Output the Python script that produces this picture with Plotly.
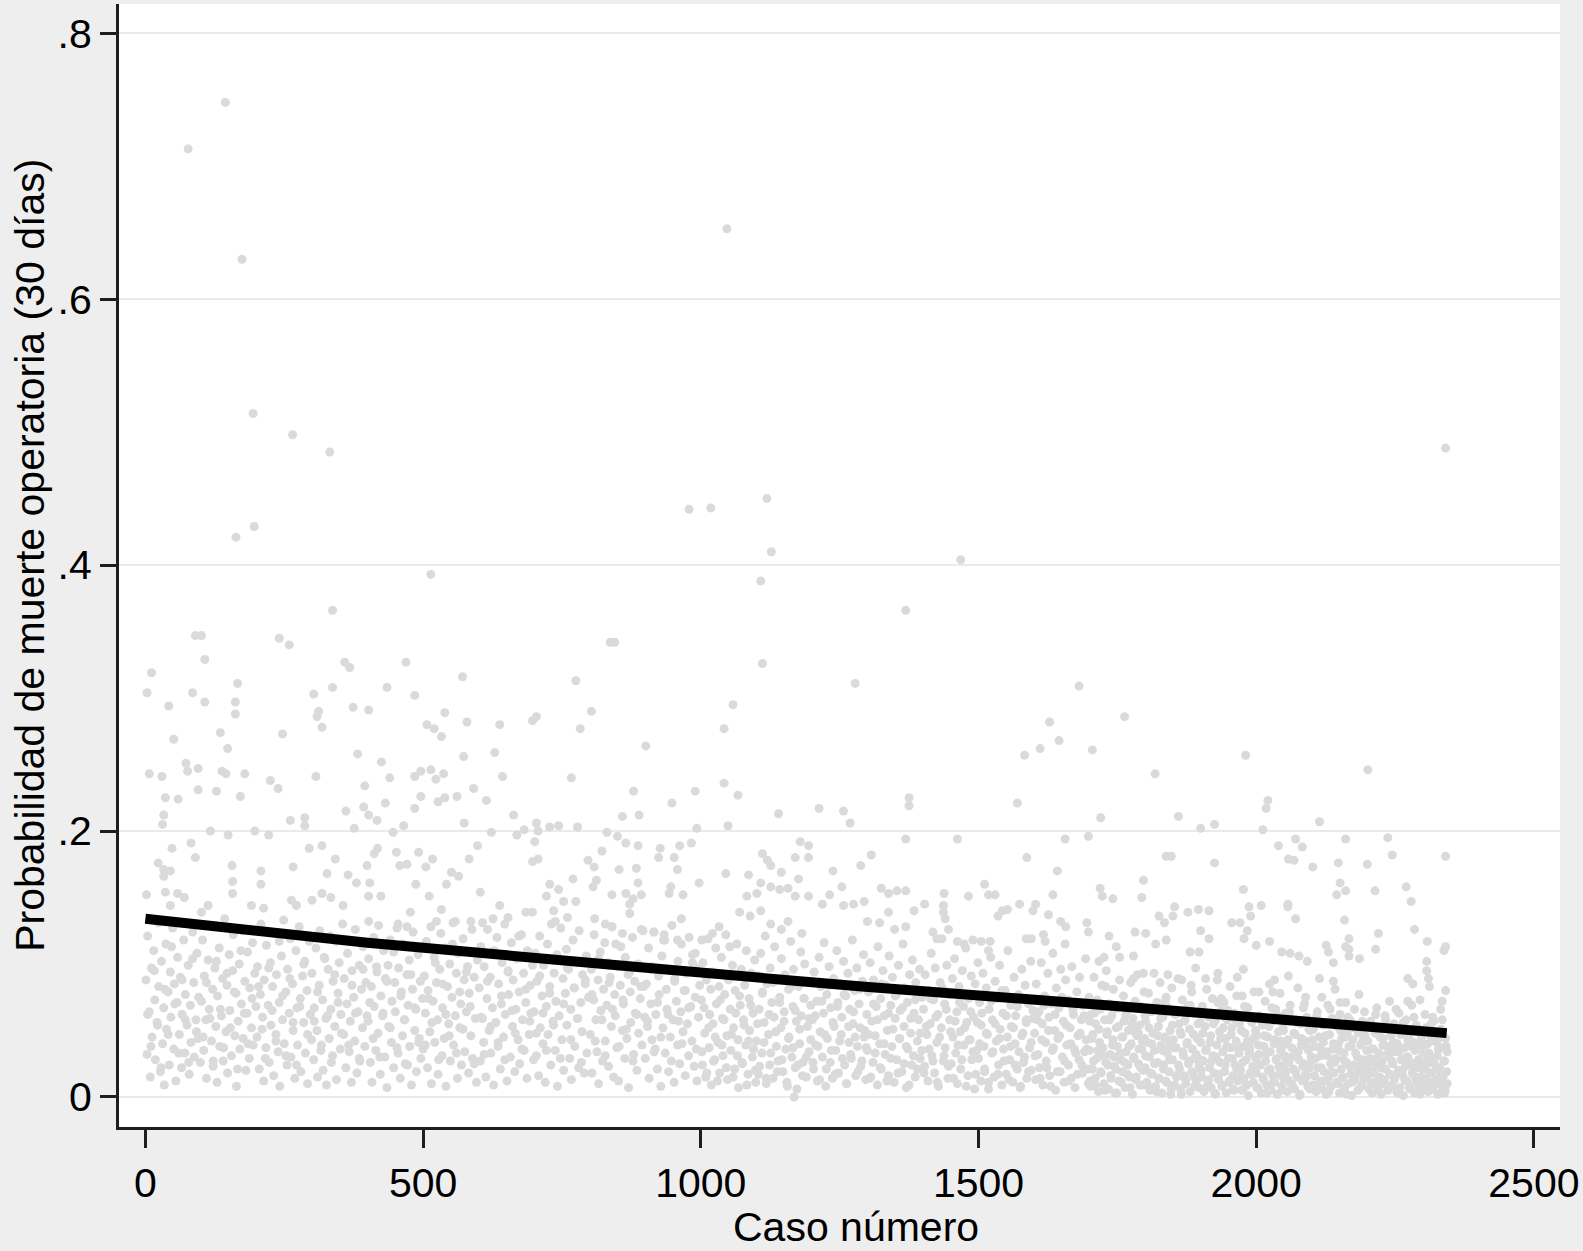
import plotly.graph_objects as go

# ---------------- data ----------------
# isolated high-probability cases
caso_a = [144, 77, 174, 1047, 194, 265, 332, 2341, 163, 196, 979, 1018, 1119, 1127, 1468, 1168]
prob_a = [.748, .713, .630, .653, .514, .498, .485, .488, .421, .429, .442, .443, .450, .410, .404, .000]

# cases 0-400 above the dense cloud
caso_b = [337, 90, 101, 241, 259, 107, 359, 368, 11, 3,
          85, 166, 107, 162, 162, 42, 303, 337, 312, 309,
          318, 374, 51, 135, 247, 148, 382, 7, 30, 73,
          76, 95, 138, 145, 179, 225, 239, 307, 95, 128,
          171, 36, 59, 395, 393, 361, 33, 31, 261, 287,
          287, 376, 117, 149, 197, 222, 82, 48, 90, 295,
          318, 23, 33, 45, 33, 156, 157, 157, 208, 208,
          266, 342, 327, 365, 380, 399, 2, 36, 58, 70,
          45, 113, 101, 191, 213, 263, 272, 300, 318, 334,
          356]
prob_b = [.366, .347, .347, .345, .340, .329, .327, .323, .319, .304,
          .304, .311, .297, .297, .288, .294, .303, .308, .290, .286,
          .278, .293, .269, .274, .273, .262, .258, .243, .241, .251,
          .245, .247, .245, .243, .243, .238, .232, .241, .231, .230,
          .226, .225, .224, .234, .218, .215, .212, .205, .208, .210,
          .204, .202, .200, .197, .200, .197, .191, .187, .180, .187,
          .189, .176, .171, .170, .166, .174, .162, .153, .170, .160,
          .173, .179, .168, .167, .161, .174, .152, .154, .153, .150,
          .144, .144, .139, .144, .142, .148, .144, .148, .153, .150,
          .144]

# cases 400-850
caso_c = [514, 469, 571, 435, 485, 402, 539, 579, 507, 520, 533, 638, 697, 704, 775, 803, 783, 845, 629, 573,
          425, 440, 485, 496, 514, 523, 537, 643, 767, 591, 496, 485, 527, 539, 561, 614, 432, 402, 417, 663,
          465, 446, 574, 623, 669, 682, 704, 707, 728, 744, 778, 831, 701, 418, 412, 452, 492, 598, 583, 822,
          797, 808, 458, 471, 505, 517, 697, 707, 551, 564, 542, 404, 402, 424, 487, 603, 511, 770, 812, 806,
          728, 744, 722, 753, 775, 840, 638, 653, 685, 697, 477, 533, 524, 558, 586, 607, 626, 735, 738, 760,
          809, 828, 402, 455, 471]
prob_c = [.393, .327, .316, .308, .302, .291, .289, .282, .280, .277, .271, .280, .283, .286, .313, .290, .277, .342, .259, .256,
          .252, .240, .241, .245, .246, .239, .243, .241, .240, .232, .226, .217, .222, .225, .226, .223, .221, .212, .208, .212,
          .204, .199, .206, .199, .197, .201, .206, .200, .203, .204, .203, .199, .192, .187, .183, .184, .184, .189, .179, .185,
          .178, .173, .174, .175, .173, .179, .177, .179, .169, .166, .160, .161, .151, .151, .160, .154, .151, .164, .163, .158,
          .160, .156, .151, .147, .147, .152, .144, .135, .139, .139, .139, .141, .132, .132, .132, .131, .134, .140, .132, .135,
          .134, .130, .132, .130, .128]

# cases 850-1300
caso_d = [1108, 837, 1111, 1278, 1058, 1042, 901, 1042, 1067, 879,
          990, 948, 859, 889, 1140, 1213, 1257, 1269, 993, 1049,
          850, 865, 887, 983, 962, 952, 927, 924, 1179, 1194,
          1170, 1194, 1111, 1120, 1126, 853, 884, 887, 958, 1045,
          1086, 1145, 1176, 1238, 1254, 997, 946, 943, 968, 865,
          878, 893, 872, 1083, 1101, 1108, 1126, 1142, 1157, 1170,
          1194, 1219, 1232, 1257, 1275, 1294, 1070, 1089, 1108, 1126,
          1145, 1157, 1182, 965, 872, 840, 859, 896, 915, 934,
          958, 1002, 1021, 1033, 1052, 990]
prob_d = [.388, .342, .326, .311, .295, .277, .264, .236, .227, .230,
          .230, .221, .211, .212, .213, .217, .215, .206, .202, .204,
          .196, .191, .189, .191, .189, .180, .187, .180, .192, .189,
          .180, .180, .183, .178, .174, .171, .172, .161, .171, .168,
          .167, .169, .164, .170, .158, .161, .158, .153, .152, .153,
          .149, .152, .145, .151, .153, .161, .158, .156, .157, .151,
          .151, .145, .152, .144, .145, .147, .139, .136, .140, .130,
          .126, .132, .123, .134, .138, .128, .123, .125, .124, .122,
          .118, .118, .123, .128, .113, .108]

# cases 1280-1730
caso_e = [1369, 1681, 1628, 1645, 1611, 1583, 1705, 1375, 1375, 1570,
          1369, 1462, 1656, 1698, 1307, 1288, 1587, 1642, 1325, 1338,
          1353, 1369, 1438, 1482, 1511, 1518, 1530, 1543, 1552, 1535,
          1574, 1603, 1598, 1634, 1626, 1719, 1723, 1403, 1384, 1338,
          1437, 1437, 1440, 1300, 1322, 1349, 1369, 1648, 1657, 1695,
          1698, 1656, 1617, 1620, 1586, 1595, 1418, 1425, 1446, 1462,
          1474, 1490, 1505, 1518, 1521]
prob_e = [.366, .309, .282, .268, .262, .257, .261, .225, .219, .221,
          .194, .194, .194, .196, .182, .174, .180, .170, .157, .153,
          .155, .155, .153, .151, .160, .152, .152, .140, .141, .136,
          .145, .145, .140, .152, .137, .157, .151, .145, .140, .139,
          .144, .139, .134, .132, .131, .126, .128, .132, .128, .131,
          .124, .115, .122, .117, .119, .119, .124, .119, .126, .117,
          .115, .118, .117, .110, .117]

# cases 1715-2170
caso_f = [1763, 1981, 1818, 1720, 1860, 1900, 1925, 2021, 2018, 2012,
          2114, 2161, 2040, 2071, 2083, 1838, 1847, 1925, 2058, 2068,
          2102, 2148, 1797, 1794, 1742, 1977, 2151, 2145, 1825, 1835,
          1853, 1850, 1877, 1896, 1915, 1987, 1990, 2009, 2057, 2057,
          2071, 1956, 1971, 1984, 1978, 2159, 1782, 1801, 1819, 1838,
          1900, 1915, 1881, 1897, 2000, 2024, 2046, 2061, 2077, 2092,
          2126, 2130, 2139, 2167, 2167, 1735, 1748, 1726, 1754, 1779,
          1717, 1931, 1909, 1977, 2005, 2030, 2033, 2058, 2089, 2114,
          2139, 2151, 1779, 1797, 1841, 1866, 1884, 1937, 1965, 1729]
prob_f = [.286, .257, .243, .210, .211, .202, .205, .223, .217, .201,
          .207, .194, .189, .194, .188, .181, .181, .176, .179, .178,
          .173, .176, .163, .150, .149, .156, .161, .152, .136, .131,
          .143, .136, .139, .141, .140, .143, .136, .144, .145, .143,
          .134, .131, .131, .125, .119, .133, .124, .123, .115, .118,
          .125, .119, .109, .109, .114, .117, .109, .108, .106, .102,
          .114, .109, .101, .119, .111, .121, .113, .105, .105, .106,
          .102, .093, .089, .096, .079, .079, .088, .091, .075, .089,
          .087, .071, .089, .093, .092, .088, .079, .074, .076, .083]

# cases 2160-2345
caso_g = [2201, 2237, 2245, 2341, 2200, 2161, 2214, 2270, 2279, 2285, 2220, 2215, 2308, 2341, 2338,
          2161, 2167, 2186, 2307, 2307, 2310, 2312, 2273, 2282, 2273, 2295, 2341, 2335, 2332]
prob_g = [.246, .195, .182, .181, .175, .155, .155, .158, .147, .126, .123, .111, .117, .113, .110,
          .113, .106, .104, .102, .095, .089, .083, .089, .085, .072, .073, .080, .072, .066]

# dense cloud, per block of cases (probability in thousandths)
caso_nube = [
    [1,3,4,7,9,11,12,15,17,18,21,23,24,27,29,31,33,34,37,38,41,43,45,46,49,51,52,55,57,58,61,63,65,66,69,71,72,75,77,79,81,82,85,87,88,91,93,95,96,99],
    [101,103,105,106,109,110,113,115,116,119,121,122,125,127,129,130,133,134,137,139,140,143,145,147,148,151,152,155,157,158,161,163,164,167,169,170,173,175,176,179,181,183,184,187,188,191,193,194,197,199],
    [201,202,205,207,208,211,213,214,217,218,221,223,225,226,229,231,232,235,236,239,241,242,245,247,249,250,253,255,256,259,261,262,265,266,269,271,273,274,277,279,280,283,285,287,288,291,292,295,297,299],
    [300,303,304,307,309,310,313,314,317,319,320,323,325,326,329,331,333,334,337,338,341,343,344,347,349,351,352,355,357,358,361,363,364,367,369,371,372,375,377,378,381,383,385,386,389,391,392,395,397,399],
    [401,402,405,407,408,411,412,415,417,419,420,423,424,427,429,431,432,435,437,438,441,443,444,447,449,450,453,455,456,459,461,463,464,467,468,471,473,475,476,479,481,482,485,487,488,491,493,495,496,499],
    [500,502,504,506,508,509,512,514,515,518,520,521,524,526,527,530,532,534,535,538,540,541,544,546,548,549,552,554,555,558,560,562,563,566,568,569,572,574,575,578,580,582,583,586,588,589,592,594,596,598],
    [601,603,604,607,609,610,613,615,616,619,621,622,625,627,628,631,633,635,636,639,641,642,645,647,648,651,653,654,657,659,661,662,665,667,668,671,673,674,677,679,681,682,685,687,688,691,693,694,697,699],
    [700,702,704,705,708,710,711,714,716,717,720,722,724,725,728,730,731,734,736,738,739,742,744,745,748,750,752,753,756,758,759,762,764,766,767,770,772,773,776,778,780,781,784,786,787,790,792,794,795,798],
    [801,803,804,807,808,811,813,815,816,819,820,823,825,827,828,831,833,834,837,839,840,843,845,846,849,851,852,855,856,859,861,863,864,867,869,870,873,874,877,879,881,882,885,887,888,891,893,894,897,899],
    [900,902,904,906,907,910,912,913,916,918,919,922,924,925,928,930,932,933,936,938,939,942,944,945,948,950,952,953,956,958,959,962,964,965,968,970,972,973,976,978,979,982,984,985,988,990,992,993,996,998],
    [1001,1003,1004,1007,1009,1010,1013,1015,1016,1019,1021,1022,1025,1027,1028,1031,1033,1034,1037,1039,1040,1043,1045,1047,1048,1051,1053,1054,1057,1059,1061,1062,1065,1067,1068,1071,1073,1074,1077,1079,1081,1082,1085,1087,1088,1091,1093,1094,1097,1099],
    [1100,1102,1104,1105,1108,1110,1111,1114,1116,1118,1119,1122,1124,1125,1128,1130,1132,1133,1136,1138,1139,1142,1144,1145,1148,1150,1152,1153,1156,1158,1159,1162,1164,1166,1167,1170,1172,1173,1176,1178,1180,1181,1184,1186,1187,1190,1192,1194,1195,1198],
    [1201,1203,1204,1207,1209,1210,1213,1215,1216,1219,1221,1222,1225,1227,1228,1231,1233,1234,1237,1239,1240,1243,1245,1247,1248,1251,1253,1254,1257,1259,1261,1262,1265,1267,1268,1271,1273,1274,1277,1279,1281,1282,1285,1287,1288,1291,1293,1294,1297,1299],
    [1300,1302,1304,1305,1308,1310,1311,1314,1316,1318,1319,1322,1324,1325,1328,1330,1332,1333,1336,1338,1339,1342,1344,1345,1348,1350,1352,1353,1356,1358,1359,1362,1364,1366,1367,1370,1372,1373,1376,1378,1380,1381,1384,1386,1387,1390,1392,1394,1395,1398],
    [1401,1403,1404,1407,1409,1410,1413,1415,1416,1419,1421,1422,1425,1427,1428,1431,1433,1434,1437,1439,1440,1443,1445,1447,1448,1451,1453,1454,1457,1459,1461,1462,1465,1467,1468,1471,1473,1474,1477,1479,1481,1482,1485,1487,1488,1491,1493,1494,1497,1499],
    [1500,1502,1504,1505,1508,1510,1511,1514,1516,1518,1519,1522,1524,1525,1528,1530,1532,1533,1536,1538,1539,1542,1544,1545,1548,1550,1552,1553,1556,1558,1559,1562,1564,1566,1567,1570,1572,1573,1576,1578,1580,1581,1584,1586,1587,1590,1592,1594,1595,1598],
    [1601,1603,1604,1607,1609,1610,1613,1615,1616,1619,1621,1622,1625,1627,1628,1631,1633,1634,1637,1639,1640,1643,1645,1647,1648,1651,1653,1654,1657,1659,1661,1662,1665,1667,1668,1671,1673,1674,1677,1679,1681,1682,1685,1687,1688,1691,1693,1694,1697,1699],
    [1700,1702,1703,1705,1706,1708,1710,1711,1713,1714,1716,1718,1719,1721,1722,1724,1726,1727,1729,1730,1732,1734,1735,1737,1738,1740,1742,1743,1745,1746,1748,1750,1751,1753,1754,1756,1758,1759,1761,1762,1764,1766,1767,1769,1770,1772,1774,1775,1777,1778,1780,1782,1783,1785,1786,1788,1790,1791,1793,1794,1796,1798,1799],
    [1800,1801,1803,1805,1806,1808,1809,1811,1813,1814,1816,1817,1819,1821,1822,1824,1825,1827,1829,1830,1832,1833,1835,1837,1838,1840,1841,1843,1845,1846,1848,1849,1851,1853,1854,1856,1857,1859,1861,1862,1864,1865,1867,1869,1870,1872,1873,1875,1877,1878,1880,1881,1883,1885,1886,1888,1889,1891,1893,1894,1896,1897,1899],
    [1900,1902,1903,1905,1906,1908,1910,1911,1913,1914,1916,1918,1919,1921,1922,1924,1926,1927,1929,1930,1932,1934,1935,1937,1938,1940,1942,1943,1945,1946,1948,1950,1951,1953,1954,1956,1958,1959,1961,1962,1964,1966,1967,1969,1970,1972,1974,1975,1977,1978,1980,1982,1983,1985,1986,1988,1990,1991,1993,1994,1996,1998,1999],
    [2000,2001,2003,2005,2006,2008,2009,2011,2013,2014,2016,2017,2019,2021,2022,2024,2025,2027,2029,2030,2032,2033,2035,2037,2038,2040,2041,2043,2045,2046,2048,2049,2051,2053,2054,2056,2057,2059,2061,2062,2064,2065,2067,2069,2070,2072,2073,2075,2077,2078,2080,2081,2083,2085,2086,2088,2089,2091,2093,2094,2096,2097,2099],
    [2100,2102,2103,2105,2106,2108,2110,2111,2113,2114,2116,2118,2119,2121,2122,2124,2126,2127,2129,2130,2132,2134,2135,2137,2138,2140,2142,2143,2145,2146,2148,2150,2151,2153,2154,2156,2158,2159,2161,2162,2164,2166,2167,2169,2170,2172,2174,2175,2177,2178,2180,2182,2183,2185,2186,2188,2190,2191,2193,2194,2196,2198,2199],
    [2200,2201,2203,2205,2206,2208,2209,2211,2213,2214,2216,2217,2219,2221,2222,2224,2225,2227,2229,2230,2232,2233,2235,2237,2238,2240,2241,2243,2245,2246,2248,2249,2251,2253,2254,2256,2257,2259,2261,2262,2264,2265,2267,2269,2270,2272,2273,2275,2277,2278,2280,2281,2283,2285,2286,2288,2289,2291,2293,2294,2296,2297,2299],
    [2300,2302,2303,2305,2306,2308,2310,2311,2313,2314,2316,2318,2319,2321,2322,2324,2326,2327,2329,2330,2332,2334,2335,2337,2338,2340,2341,2343,2344,2301,2309,2317,2325,2333,2339],
    # second layer, right-hand cases
    [1701,1704,1707,1709,1712,1715,1717,1720,1723,1725,1728,1731,1733,1736,1739,1741,1744,1747,1749,1752,1755,1757,1760,1763,1765,1768,1771,1773,1776,1779,1781,1784,1787,1789,1792,1795,1797,1700,1744,1788],
    [1801,1804,1807,1809,1812,1815,1817,1820,1823,1825,1828,1831,1833,1836,1839,1841,1844,1847,1849,1852,1855,1857,1860,1863,1865,1868,1871,1873,1876,1879,1881,1884,1887,1889,1892,1895,1897,1800,1844,1888],
    [1901,1904,1907,1909,1912,1915,1917,1920,1923,1925,1928,1931,1933,1936,1939,1941,1944,1947,1949,1952,1955,1957,1960,1963,1965,1968,1971,1973,1976,1979,1981,1984,1987,1989,1992,1995,1997,1900,1944,1988],
    [2001,2004,2007,2009,2012,2015,2017,2020,2023,2025,2028,2031,2033,2036,2039,2041,2044,2047,2049,2052,2055,2057,2060,2063,2065,2068,2071,2073,2076,2079,2081,2084,2087,2089,2092,2095,2097,2000,2044,2088],
    [2101,2104,2107,2109,2112,2115,2117,2120,2123,2125,2128,2131,2133,2136,2139,2141,2144,2147,2149,2152,2155,2157,2160,2163,2165,2168,2171,2173,2176,2179,2181,2184,2187,2189,2192,2195,2197,2100,2144,2188],
    [2201,2204,2207,2209,2212,2215,2217,2220,2223,2225,2228,2231,2233,2236,2239,2241,2244,2247,2249,2252,2255,2257,2260,2263,2265,2268,2271,2273,2276,2279,2281,2284,2287,2289,2292,2295,2297,2200,2244,2288],
    [2300,2302,2304,2306,2307,2309,2312,2315,2317,2320,2323,2325,2328,2331,2333,2336,2339,2342,2344,2304,2320,2336],
    # second layer, middle cases
    [1002,1006,1011,1014,1018,1023,1026,1030,1035,1038,1042,1046,1050,1055,1058,1063,1066,1070,1075,1078,1083,1086,1090,1095,1098],
    [1102,1106,1111,1114,1118,1123,1126,1130,1135,1138,1142,1146,1150,1155,1158,1163,1166,1170,1175,1178,1183,1186,1190,1195,1198],
    [1202,1206,1211,1214,1218,1223,1226,1230,1235,1238,1242,1246,1250,1255,1258,1263,1266,1270,1275,1278,1283,1286,1290,1295,1298],
    [1302,1306,1311,1314,1318,1323,1326,1330,1335,1338,1342,1346,1350,1355,1358,1363,1366,1370,1375,1378,1383,1386,1390,1395,1398],
    [1402,1406,1411,1414,1418,1423,1426,1430,1435,1438,1442,1446,1450,1455,1458,1463,1466,1470,1475,1478,1483,1486,1490,1495,1498],
    [1502,1506,1511,1514,1518,1523,1526,1530,1535,1538,1542,1546,1550,1555,1558,1563,1566,1570,1575,1578,1583,1586,1590,1595,1598],
    [1602,1606,1611,1614,1618,1623,1626,1630,1635,1638,1642,1646,1650,1655,1658,1663,1666,1670,1675,1678,1683,1686,1690,1695,1698],
    # second layer, left-hand cases
    [4,10,16,22,28,35,41,47,53,60,66,72,78,85,92],
    [104,110,116,122,128,135,141,147,153,160,166,172,178,185,192],
    [204,210,216,222,228,235,241,247,253,260,266,272,278,285,292],
    [304,310,316,322,328,335,341,347,353,360,366,372,378,385,392],
    [404,410,416,422,428,435,441,447,453,460,466,472,478,485,492],
    [504,510,516,522,528,535,541,547,553,560,566,572,578,585,592],
    [604,610,616,622,628,635,641,647,653,660,666,672,678,685,692],
    [704,710,716,722,728,735,741,747,753,760,766,772,778,785,792],
    [804,810,816,822,828,835,841,847,853,860,866,872,878,885,892],
    [904,910,916,922,928,935,941,947,953,960,966,972,978,985,992],
]
prob_nube_milesimas = [
    [88,32,121,64,15,97,45,110,73,28,56,131,83,19,102,40,67,9,115,51,79,24,94,60,127,36,85,12,71,105,47,90,22,62,118,33,77,54,99,17,69,41,124,86,30,58,108,44,75,26],
    [72,118,35,91,58,14,103,66,129,42,81,23,97,53,11,76,112,38,61,89,27,134,49,84,18,107,65,31,95,122,46,78,8,57,100,36,70,125,44,87,20,63,109,29,82,52,116,39,93,68],
    [45,98,21,77,130,60,12,88,37,114,69,26,101,54,83,16,123,47,92,34,71,8,106,58,133,40,79,24,96,63,119,30,85,50,14,110,67,39,128,74,19,91,56,102,33,80,10,117,62,43],
    [93,28,67,112,50,15,84,125,39,73,20,104,59,9,96,44,121,66,31,87,53,117,13,78,101,36,62,130,47,89,22,70,108,34,57,11,95,75,42,126,18,64,99,27,81,52,113,38,86,61],
    [57,104,26,83,11,120,68,35,94,48,129,17,76,61,110,30,89,7,99,53,118,41,72,22,86,64,127,33,97,14,79,46,115,58,25,92,69,103,38,9,81,124,50,66,19,107,44,87,29,74],
    [36,91,63,117,22,80,49,128,10,72,105,41,86,58,17,96,123,31,67,44,112,8,83,55,100,27,75,131,39,61,93,14,108,52,70,24,119,88,34,64,98,18,78,46,126,29,90,59,11,103],
    [82,27,113,59,41,98,15,74,126,50,90,33,67,9,107,56,120,38,85,21,70,101,45,130,62,12,94,77,30,116,53,88,19,66,104,43,79,25,122,58,93,35,71,14,110,47,84,63,99,28],
    [64,108,31,87,16,121,52,76,40,99,11,68,115,47,83,24,130,57,93,35,72,8,104,61,127,43,89,20,78,111,54,96,29,66,13,118,82,38,101,59,22,125,71,49,92,18,85,106,33,75],
    [47,96,18,73,122,58,34,88,10,109,65,27,81,116,42,69,101,23,90,53,128,15,77,61,37,98,12,84,113,50,70,29,105,44,92,7,79,56,120,32,87,63,20,100,48,74,126,39,83,60],
    [29,85,57,112,14,70,43,98,124,36,62,21,91,77,8,106,52,118,33,81,66,19,95,45,129,58,11,87,72,39,102,25,64,115,49,80,16,93,55,31,120,68,42,107,23,75,97,12,60,84],
    [73,24,101,48,15,88,119,37,62,9,94,55,28,112,70,41,83,18,105,59,31,77,122,46,13,90,66,35,99,52,21,80,115,43,7,69,96,26,58,84,39,110,17,74,50,93,30,63,103,11],
    [42,91,17,66,108,33,79,56,121,10,85,47,24,97,71,14,60,113,38,88,27,75,52,104,19,64,92,36,8,81,45,117,30,68,96,22,57,6,83,40,109,61,26,74,100,15,53,87,34,69],
    [58,21,94,39,72,12,105,49,83,30,63,116,8,77,44,98,26,67,14,89,53,35,110,71,18,85,47,60,102,24,76,10,93,41,66,29,118,55,80,16,97,38,70,52,23,87,107,45,13,62],
    [35,79,14,101,57,26,88,46,68,9,113,40,74,21,95,61,32,84,50,16,106,69,38,90,11,59,77,28,99,44,65,19,115,53,82,7,71,36,92,48,24,103,63,15,86,42,58,96,29,75],
    [66,23,92,47,12,80,55,108,31,73,18,97,41,62,8,86,52,119,27,70,37,99,14,77,58,25,89,45,104,33,64,10,83,49,21,95,68,39,112,56,16,74,43,91,28,60,6,85,35,101],
    [29,71,12,54,93,38,19,82,47,6,66,105,33,58,15,87,42,74,24,99,51,9,63,36,80,17,45,110,28,69,53,11,90,40,61,21,77,34,8,96,48,26,84,56,14,70,37,102,20,59],
    [48,13,85,32,64,22,101,55,9,76,41,27,93,60,16,70,35,108,50,5,82,44,67,19,96,30,57,11,88,39,73,24,52,14,98,62,36,7,79,46,28,90,58,18,69,34,104,43,21,75],
    [35,8,62,21,47,90,14,55,29,73,4,41,66,18,84,37,10,58,26,95,49,6,70,32,16,61,43,81,23,3,52,38,67,12,88,28,45,19,76,57,7,34,64,24,50,15,86,40,2,59,30,72,13,46,92,25,54,9,68,36,20,79,44],
    [22,57,11,41,78,30,5,64,17,48,93,35,8,71,26,53,14,86,39,3,60,24,45,12,75,33,67,19,50,2,82,28,43,9,62,37,15,89,55,21,6,47,73,31,16,58,10,40,69,25,51,4,84,36,18,63,29,97,13,44,27,7,56],
    [41,15,68,27,4,53,36,81,10,60,22,46,7,74,31,18,57,2,39,88,13,49,26,65,8,34,71,19,44,3,58,29,11,83,37,52,16,6,63,24,42,90,12,33,55,20,5,76,38,14,48,28,9,67,1,35,59,17,43,23,79,30,50],
    [18,46,7,32,61,24,3,54,13,38,72,27,9,45,20,85,34,5,57,16,40,11,66,29,2,49,23,78,36,8,52,14,31,63,19,4,43,26,69,10,37,58,21,6,47,33,15,82,28,1,55,39,12,67,25,42,17,60,8,35,22,50,30],
    [27,9,51,16,38,4,64,22,45,12,31,75,6,41,19,56,2,34,69,14,47,25,8,59,36,18,81,29,11,53,40,3,62,21,44,15,33,7,71,26,48,10,38,58,17,1,43,24,66,13,52,30,5,77,20,39,9,57,28,14,46,23,35],
    [14,42,6,29,57,19,3,36,11,48,24,67,8,33,15,52,2,27,44,10,61,21,38,5,31,72,17,46,9,25,55,13,34,4,40,20,63,7,28,50,16,1,37,23,58,12,30,45,6,26,69,18,41,3,35,11,53,22,8,39,15,47,24],
    [21,7,39,14,52,28,4,33,11,46,18,60,8,25,42,13,31,2,49,22,37,9,58,16,27,5,44,19,34,12,26,6,41,17,3],
    [12,44,27,63,8,35,51,19,70,31,5,47,24,58,14,39,66,21,3,53,33,11,45,26,61,17,38,7,55,29,49,15,68,36,22,42,9,57,30,48],
    [31,9,52,18,40,67,25,4,46,14,59,35,21,72,11,43,28,6,54,37,16,63,24,49,2,34,57,13,41,27,69,19,47,8,32,55,23,61,38,15],
    [20,48,6,35,62,13,41,27,55,3,30,71,17,44,9,52,24,38,65,12,47,29,5,58,21,36,14,50,26,68,8,42,33,18,56,11,45,28,60,37],
    [7,39,24,58,15,46,32,3,53,21,67,11,43,28,61,17,35,5,50,25,40,13,64,30,9,48,19,56,34,2,44,23,70,14,37,51,6,29,42,16],
    [43,16,29,61,8,37,22,54,12,46,31,4,66,19,40,26,57,10,35,50,14,28,45,2,60,23,38,11,52,33,18,48,7,25,42,64,15,30,55,20],
    [25,53,10,36,18,62,29,5,45,22,39,13,58,32,8,50,27,41,16,66,3,34,47,20,56,12,30,43,7,38,24,60,15,49,28,2,44,19,35,54],
    [33,12,48,24,6,40,18,55,29,9,44,21,36,3,51,15,27,38,10,62,57,45],
    [34,67,18,52,81,27,45,12,73,39,58,22,88,47,15,63,31,76,25,54,9,42,69,36,20],
    [55,23,78,41,14,62,33,86,49,19,71,28,57,11,44,83,37,65,24,51,16,74,30,59,43],
    [26,61,38,13,72,47,21,84,35,56,17,68,42,29,77,10,53,32,64,45,19,81,27,50,37],
    [47,15,70,33,58,22,85,40,12,63,29,51,76,18,44,67,25,38,9,59,31,73,21,48,35],
    [18,53,36,74,27,60,11,45,82,31,66,23,49,14,57,39,71,28,52,8,43,64,34,17,56],
    [40,63,21,48,11,72,34,55,17,44,80,27,61,13,38,52,24,68,7,46,30,58,19,41,65],
    [31,58,14,43,69,22,50,8,37,62,19,46,75,27,54,12,40,66,33,17,48,24,61,36,10],
    [62,38,95,54,22,81,47,113,70,33,88,58,26,104,49],
    [45,86,59,27,102,66,37,93,52,79,21,110,63,40,74],
    [83,51,29,97,65,42,117,76,31,89,56,24,68,100,47],
    [57,79,35,105,61,26,92,71,48,118,39,84,63,29,96],
    [71,44,98,30,63,87,52,109,37,76,58,24,92,67,41],
    [39,74,56,101,28,85,62,46,115,33,79,51,94,68,25],
    [60,32,87,53,110,41,76,28,95,65,48,121,36,81,57],
    [48,91,63,35,78,54,107,29,70,97,43,82,59,26,88],
    [77,42,104,58,31,86,66,115,38,73,51,94,27,62,83],
    [53,96,34,71,45,118,62,27,89,57,40,80,67,101,36],
]

# fitted trend line
caso_ajuste = [0, 400, 850, 1290, 1730, 2170, 2343]
prob_ajuste = [.134, .116, .099, .083, .069, .055, .048]

x_ticks = [0, 500, 1000, 1500, 2000, 2500]
y_ticks = [0, .2, .4, .6, .8]
y_ticktext = ["0", ".2", ".4", ".6", ".8"]

# ---------------- assemble ----------------
xs, ys = [], []
for cx, py in [(caso_a, prob_a), (caso_b, prob_b), (caso_c, prob_c), (caso_d, prob_d),
               (caso_e, prob_e), (caso_f, prob_f), (caso_g, prob_g)]:
    for x, y in zip(cx, py):
        xs.append(x)
        ys.append(y)
for bx, by in zip(caso_nube, prob_nube_milesimas):
    for x, y in zip(bx, by):
        xs.append(x)
        ys.append(y / 1000.0)

FONT = "Liberation Sans, Arial, Helvetica, sans-serif"
AX = "#1e1e1e"

fig = go.Figure()
fig.add_trace(go.Scatter(
    x=xs, y=ys, mode="markers",
    marker=dict(size=9, color="rgb(218,218,218)", line=dict(width=0)),
    hoverinfo="skip", showlegend=False,
))
fig.add_trace(go.Scatter(
    x=caso_ajuste, y=prob_ajuste, mode="lines",
    line=dict(color="black", width=10),
    hoverinfo="skip", showlegend=False,
))

fig.update_layout(
    width=1583, height=1251,
    paper_bgcolor="#eeeeee", plot_bgcolor="white",
    margin=dict(l=119, r=23, t=4, b=124),
    font=dict(family=FONT, size=41, color="black"),
    showlegend=False,
    xaxis=dict(
        range=[-47.5, 2547], tickvals=x_ticks, ticks="outside", ticklen=18, tickwidth=2.5,
        tickcolor=AX, showline=True, linecolor=AX, linewidth=3, showgrid=False, zeroline=False,
        tickfont=dict(size=41, color="black"),
    ),
    yaxis=dict(
        range=[-0.0226, 0.822], tickvals=y_ticks, ticktext=y_ticktext, ticks="outside",
        ticklen=16, tickwidth=2.5, tickcolor=AX, showline=True, linecolor=AX, linewidth=3,
        showgrid=True, gridcolor="#e3edee", gridwidth=2, zeroline=False,
        tickfont=dict(size=41, color="black"),
    ),
    annotations=[
        dict(text="Probabilidad de muerte operatoria (30 días)", textangle=-90,
             xref="paper", x=0, xanchor="center", xshift=-89,
             yref="y", y=0.407, yanchor="middle", showarrow=False,
             font=dict(family=FONT, size=41, color="black")),
        dict(text="Caso número", xref="x", x=1279, xanchor="center",
             yref="paper", y=0, yanchor="middle", yshift=-100, showarrow=False,
             font=dict(family=FONT, size=41, color="black")),
    ],
)

fig.write_html(
    "out.html",
    config={"displayModeBar": False},
    post_script="document.body.style.margin='0';document.body.style.overflow='hidden';",
)
